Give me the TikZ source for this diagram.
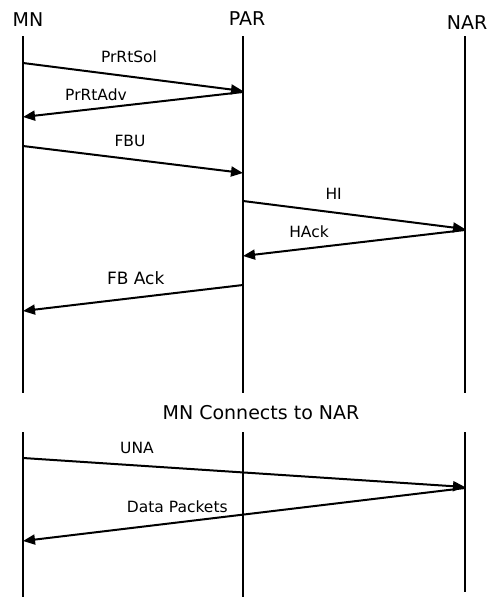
\documentclass[tikz,border=0pt]{standalone}
\usepackage{fontspec}
\setmainfont{DejaVu Sans}
\usetikzlibrary{arrows.meta,positioning}

\begin{document}
\begin{tikzpicture}[x=1pt, y=-1pt, line width=2pt,
    every node/.style={inner sep=0pt},
    actor/.style={font=\fontsize{19}{22}\selectfont, anchor=base},
    lbl/.style={font=\fontsize{15.5}{18}\selectfont, anchor=base},
    msg/.style={-{Triangle[length=12pt,width=10pt]}}]

    \useasboundingbox (0,0) rectangle (493,597);

    % entities
    \node[actor] (mn)  at (28,26.5)  {MN};
    \node[actor] (par) at (247,25)   {PAR};
    \node[actor] (nar) at (467,29.5) {NAR};

    % lifelines
    \coordinate (mnTop) at (23,36);   \coordinate (mnBrk) at (23,393);
    \coordinate (mnRes) at (23,432);  \coordinate (mnBot) at (23,597);
    \coordinate (parTop) at (243,36);  \coordinate (parBrk) at (243,393);
    \coordinate (parRes) at (243,432); \coordinate (parBot) at (243,597);
    \coordinate (narTop) at (465,36);  \coordinate (narBrk) at (465,393);
    \coordinate (narRes) at (465,432); \coordinate (narBot) at (465,592);

    \draw (mnTop) -- (mnBrk)  (mnRes) -- (mnBot);
    \draw (parTop) -- (parBrk) (parRes) -- (parBot);
    \draw (narTop) -- (narBrk) (narRes) -- (narBot);

    % message points
    \coordinate (mn1) at (23,63);    \coordinate (par1) at (243,91);
    \coordinate (par2) at (243,92);  \coordinate (mn2) at (23,117);
    \coordinate (mn3) at (23,146);   \coordinate (par3) at (243,173);
    \coordinate (par4) at (243,201); \coordinate (nar4) at (465,229);
    \coordinate (nar5) at (465,230); \coordinate (par5) at (243,256);
    \coordinate (par6) at (243,285); \coordinate (mn6) at (23,311);
    \coordinate (mn7) at (23,458);   \coordinate (nar7) at (465,487);
    \coordinate (nar8) at (465,488); \coordinate (mn8) at (23,541);

    \path[msg]
        (mn1)  edge (par1)
        (par2) edge (mn2)
        (mn3)  edge (par3)
        (par4) edge (nar4)
        (nar5) edge (par5)
        (par6) edge (mn6)
        (mn7)  edge (nar7)
        (nar8) edge (mn8);

    % labels
    \node[lbl] (prrtsol) at (129,62.3)  {PrRtSol};
    \node[lbl] (prrtadv) at (96,100)    {PrRtAdv};
    \node[lbl] (fbu)     at (130,146.7) {FBU};
    \node[lbl] (hi)      at (333.7,199.3) {HI};
    \node[lbl] (hack)    at (309,237.3) {HAck};
    \node[lbl, font=\fontsize{17}{20}\selectfont] (fback) at (135.7,284.3) {FB Ack};
    \node[actor] (conn)  at (261,419)   {MN Connects to NAR};
    \node[lbl] (una)     at (137,453.3) {UNA};
    \node[lbl] (data)    at (177.3,512.7) {Data Packets};

\end{tikzpicture}
\end{document}
